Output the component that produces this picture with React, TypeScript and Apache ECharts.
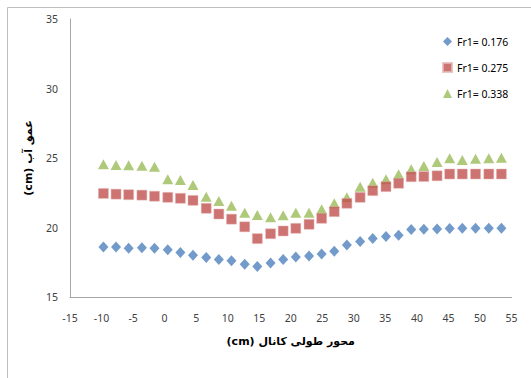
import React, { useEffect, useRef } from "react";
import * as echarts from "echarts";

const xPositions = [
  -9.7, -7.7, -5.7, -3.6, -1.6, 0.5, 2.5, 4.5, 6.6, 8.6, 10.6, 12.7, 14.7, 16.8, 18.8, 20.8,
  22.9, 24.9, 26.9, 28.9, 31.0, 33.0, 35.1, 37.1, 39.1, 41.1, 43.2, 45.2, 47.2, 49.3, 51.4, 53.4,
];

const fr176 = [
  18.6, 18.6, 18.5, 18.55, 18.5, 18.4, 18.2, 18.0, 17.85, 17.7, 17.6, 17.35, 17.2, 17.45, 17.7, 17.87,
  17.95, 18.1, 18.3, 18.75, 19.0, 19.2, 19.35, 19.45, 19.85, 19.88, 19.9, 19.92, 19.95, 19.95, 19.95, 19.95,
];

const fr275 = [
  22.45, 22.4, 22.36, 22.33, 22.25, 22.17, 22.1, 21.95, 21.38, 20.97, 20.6, 20.05, 19.2, 19.55, 19.75, 19.94,
  20.23, 20.66, 21.14, 21.74, 22.17, 22.65, 22.94, 23.18, 23.65, 23.67, 23.72, 23.85, 23.85, 23.85, 23.85, 23.85,
];

const fr338 = [
  24.55, 24.5, 24.47, 24.45, 24.37, 23.47, 23.42, 23.06, 22.22, 21.91, 21.57, 21.07, 20.9, 20.73, 20.88, 21.07,
  21.07, 21.31, 21.74, 22.17, 22.94, 23.22, 23.47, 23.83, 24.19, 24.42, 24.71, 24.98, 24.86, 24.95, 24.98, 25.02,
];

const seriesNames = ["Fr1= 0.176", "Fr1= 0.275", "Fr1= 0.338"];
const xTitle = "\u202Bمحور طولی کانال (cm)\u202C";
const yTitle = "\u202Bعمق آب (cm)\u202C";

const pairs = (ys: number[]) => ys.map((y, i) => [xPositions[i], y]);

export default function App() {
  const ref = useRef<HTMLDivElement>(null);
  useEffect(() => {
    if (!ref.current) return;
    const chart = echarts.init(ref.current, undefined, { renderer: "svg" });
    const labelFont = { fontFamily: "Noto Sans", fontSize: 10.5, color: "#404040" };
    chart.setOption({
      animation: false,
      backgroundColor: "#ffffff",
      grid: { left: 70, top: 19, right: 19.5, bottom: 81, containLabel: false },
      graphic: [
        {
          type: "rect",
          shape: { x: 7.5, y: 7.5, width: 700, height: 700 },
          style: { fill: "none", stroke: "#bfbfbf", lineWidth: 1 },
          silent: true,
          z: -10,
        },
      ],
      legend: {
        orient: "vertical",
        left: 437,
        top: 31,
        itemWidth: 9,
        itemHeight: 9,
        itemGap: 15,
        textStyle: { fontFamily: "Noto Sans", fontSize: 10.5, color: "#000000" },
        data: [
          { name: seriesNames[0], icon: "diamond" },
          { name: seriesNames[1], icon: "rect" },
          { name: seriesNames[2], icon: "triangle" },
        ],
      },
      xAxis: {
        type: "value",
        min: -15,
        max: 55,
        interval: 5,
        splitLine: { show: false },
        axisTick: { show: false },
        axisLine: { onZero: false, lineStyle: { color: "#a6a6a6", width: 1 } },
        axisLabel: { ...labelFont, margin: 15 },
        name: xTitle,
        nameLocation: "middle",
        nameGap: 39,
        nameTextStyle: { fontFamily: "DejaVu Sans", fontWeight: "bold", fontSize: 11, color: "#000000" },
      },
      yAxis: {
        type: "value",
        min: 15,
        max: 35,
        interval: 5,
        splitLine: { show: false },
        axisTick: { show: false },
        axisLine: { show: true, onZero: false, lineStyle: { color: "#a6a6a6", width: 1 } },
        axisLabel: { ...labelFont, margin: 12 },
        name: yTitle,
        nameLocation: "middle",
        nameGap: 36,
        nameTextStyle: { fontFamily: "DejaVu Sans", fontWeight: "bold", fontSize: 11, color: "#000000" },
      },
      series: [
        {
          name: seriesNames[0],
          type: "scatter",
          symbol: "diamond",
          symbolSize: [10, 11],
          itemStyle: { color: "#4F81BD" },
          data: pairs(fr176),
          z: 4,
        },
        {
          name: seriesNames[1],
          type: "scatter",
          symbol: "rect",
          symbolSize: [10, 10],
          itemStyle: { color: "#C0504D", borderColor: "#e6b9b8", borderWidth: 0.6 },
          data: pairs(fr275),
          z: 3,
        },
        {
          name: seriesNames[2],
          type: "scatter",
          symbol: "triangle",
          symbolSize: [11, 10],
          itemStyle: { color: "#9BBB59" },
          data: pairs(fr338),
          z: 2,
        },
      ],
    });
    return () => chart.dispose();
  }, []);
  return (
    <div
      ref={ref}
      style={{ position: "absolute", left: 0, top: 0, width: 531, height: 378, background: "#fff" }}
    />
  );
}
